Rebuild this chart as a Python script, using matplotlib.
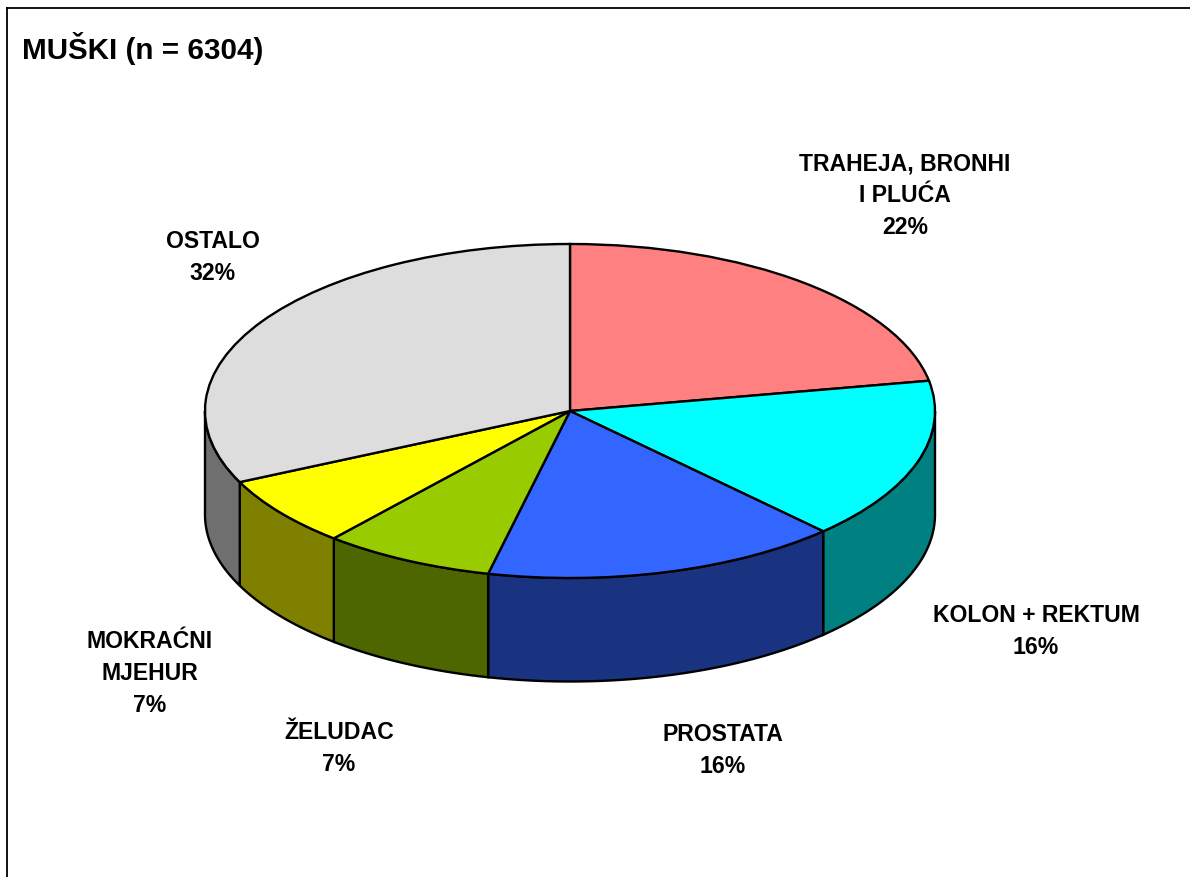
import numpy as np
import matplotlib
matplotlib.use("Agg")
import matplotlib.pyplot as plt

plt.rcParams['font.family'] = ['Liberation Sans', 'DejaVu Sans']

labels = ["TRAHEJA, BRONHI\nI PLUĆA\n22%", "KOLON + REKTUM\n16%", "PROSTATA\n16%",
          "ŽELUDAC\n7%", "MOKRAĆNI\nMJEHUR\n7%", "OSTALO\n32%"]
values = [22.1, 15.7, 15.8, 7.6, 6.8, 32.0]
top_colors = ["#FF8080", "#00FFFF", "#3366FF", "#99CC00", "#FFFF00", "#DDDDDD"]
side_colors = ["#804040", "#008080", "#193380", "#4D6600", "#808000", "#6F6F6F"]
label_x = [905, 1036, 723, 339, 150, 213]
label_y = [195.5, 631.5, 750.5, 748.5, 673.5, 257.5]

W, H = 1190, 877
cx, cy = 570, 411
rx, ry = 365, 167
depth = 103.5 / ry

fig = plt.figure(figsize=(W / 100, H / 100), dpi=100)
ax = fig.add_axes([0, 0, 1, 1])

# wedges: squashed circle, side wall drawn first then top over it
wedges, _ = ax.pie(values, colors=top_colors, startangle=90, counterclock=False,
                   radius=1, wedgeprops=dict(edgecolor="black", linewidth=1.7, zorder=5))
ax.set_aspect("auto")
ax.set_xlim(-cx / rx, (W - cx) / rx)
ax.set_ylim((cy - H) / ry, cy / ry)

edges = 90 - np.cumsum([0] + values) * 3.6
for i in range(len(values)):
    # only the front part of the rim (angles between -180 and 0) shows
    a1 = max(edges[i + 1], -180)
    a0 = min(edges[i], 0)
    if a0 <= a1:
        continue
    t = np.radians(np.linspace(a0, a1, 80))
    xs = np.cos(t)
    ys = np.sin(t)
    ax.fill(np.r_[xs, xs[::-1]], np.r_[ys, ys[::-1] - depth], facecolor=side_colors[i],
            edgecolor="black", linewidth=1.7, zorder=3, clip_on=False)

for i in range(len(labels)):
    fig.text(label_x[i] / W, 1 - label_y[i] / H, labels[i], ha="center", va="center",
             fontsize=16.6, fontweight="bold", color="black", linespacing=1.5)

fig.text(22 / W, 1 - 48.5 / H, "MUŠKI (n = 6304)", ha="left", va="center",
         fontsize=21.3, fontweight="bold", color="black")

# chart frame: only top and left show in the crop
fig.add_artist(plt.Line2D([7 / W, 7 / W], [0, 1 - 8 / H], color="black", linewidth=1.3))
fig.add_artist(plt.Line2D([7 / W, 1], [1 - 8 / H, 1 - 8 / H], color="black", linewidth=1.3))

fig.savefig("out.png", dpi=100)
